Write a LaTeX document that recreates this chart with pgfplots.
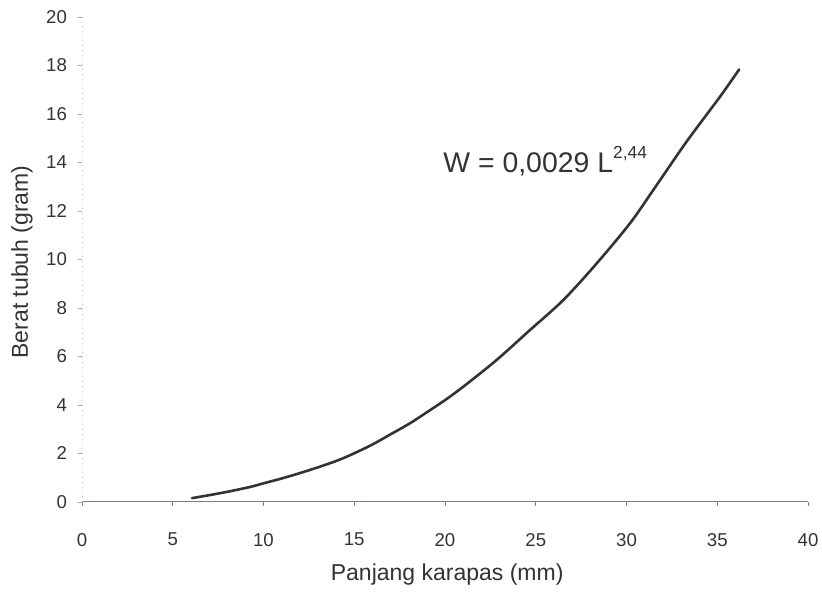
\documentclass[border=0pt]{standalone}
\usepackage{pgfplots}
\pgfplotsset{compat=1.18}
\usepackage{fontspec}
\setmainfont{Liberation Sans}
\definecolor{curve}{HTML}{333333}
\definecolor{baxis}{HTML}{7C7C98}
\begin{document}
\begin{tikzpicture}
\begin{axis}[
  name=ax,
  scale only axis,
  width=363pt, height=242.5pt,
  xmin=0, xmax=40, ymin=0, ymax=20,
  xtick={0,5,...,40}, ytick={0,2,...,20},
  axis x line*=bottom, axis y line*=left,
  x axis line style={baxis, line width=0.5pt, -},
  y axis line style={gray!45, line width=0.4pt, dotted, -},
  tick align=outside,
  major tick length=2pt,
  x tick style={baxis, line width=0.4pt},
  y tick style={gray!70, line width=0.4pt},
  /pgf/number format/assume math mode=true,
  tick label style={font=\fontsize{9.3}{11}\selectfont, text=black!80},
  xticklabel style={yshift=-10pt},
  yticklabel style={xshift=-2pt},
  xlabel={Panjang karapas (mm)},
  ylabel={Berat tubuh (gram)},
  label style={font=\fontsize{11.5}{13}\selectfont, text=black!80},
  xlabel style={at={(axis description cs:0.503,-0.1505)}, anchor=center},
  ylabel style={at={(axis description cs:-0.0826,0.495)}, anchor=center},
  clip=false,
]
\addplot[curve, line width=1.3pt, line join=round, line cap=round, smooth, tension=0.5] coordinates {
(6.06,0.16) (7,0.28) (8,0.42) (9.26,0.62) (10,0.77) (11,0.97) (12,1.19)
(13,1.43) (14,1.69) (14.8,1.94) (16,2.37) (17,2.79) (18.1,3.26) (19,3.7)
(20,4.2) (21,4.75) (22.85,5.86) (24.68,7.09) (26.52,8.33) (28.36,9.84)
(30.19,11.49) (31.48,12.87) (33.31,14.86) (35.15,16.71) (36.21,17.84)
};
\node[anchor=base west, inner sep=0pt, text=black!80] at (axis cs:19.89,13.6)
  {\fontsize{14.2}{16}\selectfont W = 0,0029 L\raisebox{7pt}{\fontsize{8.7}{10}\selectfont 2,44}};
\end{axis}
\pgfresetboundingbox
\path ([xshift=-41pt,yshift=-45pt]ax.south west) rectangle ([xshift=7pt,yshift=8.5pt]ax.north east);
\end{tikzpicture}
\end{document}
